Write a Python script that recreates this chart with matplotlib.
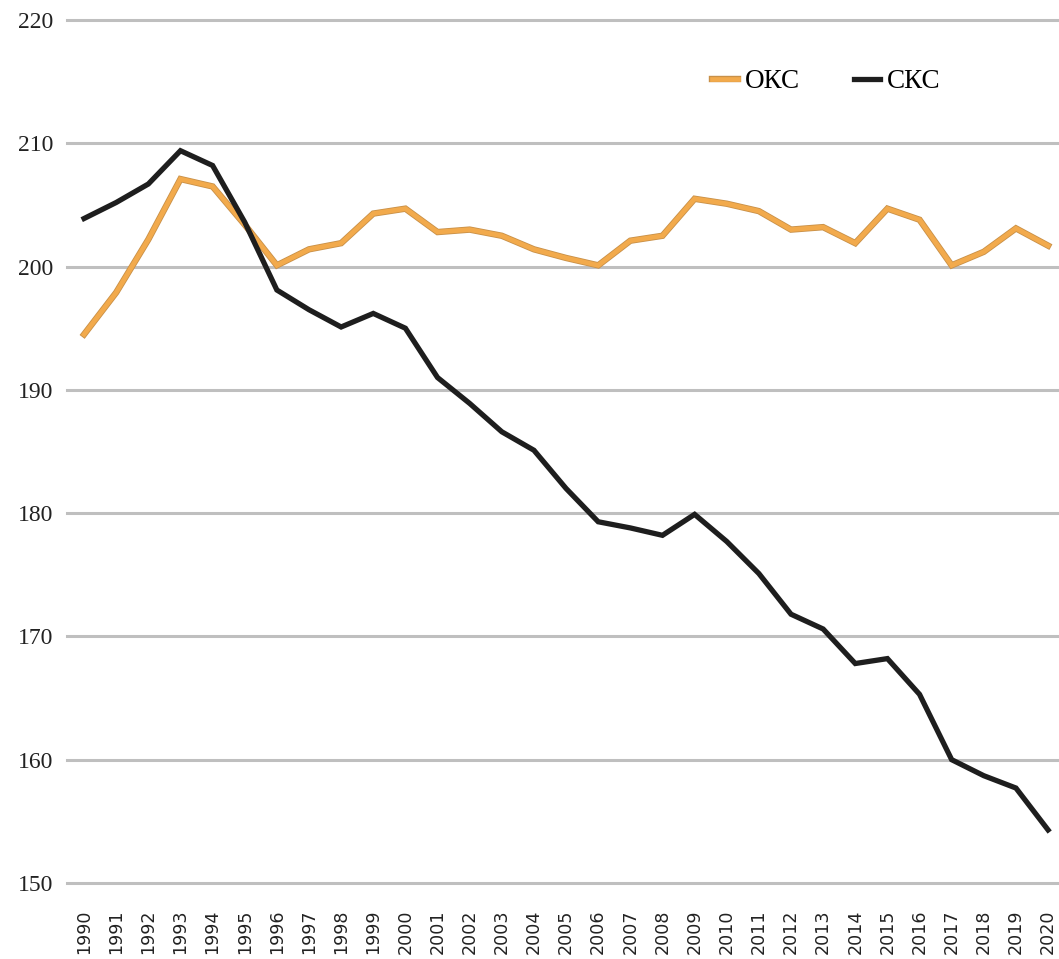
import matplotlib
matplotlib.use('Agg')
import matplotlib.pyplot as plt
import matplotlib.patheffects as pe

years = list(range(1990, 2021))

oks = [194.5, 197.9, 202.2, 207.1, 206.5, 203.4, 200.1, 201.4, 201.9, 204.3,
       204.7, 202.8, 203.0, 202.5, 201.4, 200.7, 200.1, 202.1, 202.5, 205.5,
       205.1, 204.5, 203.0, 203.2, 201.9, 204.7, 203.8, 200.1, 201.2, 203.1,
       201.7]

sks = [203.9, 205.2, 206.7, 209.4, 208.2, 203.6, 198.1, 196.5, 195.1, 196.2,
       195.0, 191.0, 188.9, 186.6, 185.1, 182.0, 179.3, 178.8, 178.2, 179.9,
       177.7, 175.1, 171.8, 170.6, 167.8, 168.2, 165.3, 160.0, 158.7, 157.7,
       154.3]

y_ticks = [150, 160, 170, 180, 190, 200, 210, 220]

plt.rcParams['font.family'] = ['Liberation Serif', 'DejaVu Serif']

fig = plt.figure(figsize=(10.59, 9.59), dpi=100)
ax = fig.add_axes([0.0633, 0.0793, 0.9367, 0.8998])

for y in y_ticks:
    ax.axhline(y, color='#BFBFBF', lw=2.2, zorder=1, clip_on=False)

ax.plot(years, oks, color='#F2AA4C', lw=3.4, zorder=3, solid_joinstyle='miter',
        label='ОКС',
        path_effects=[pe.Stroke(linewidth=4.6, foreground='#C89048'), pe.Normal()])
ax.plot(years, sks, color='#1E1E1E', lw=3.8, zorder=4, solid_joinstyle='miter',
        label='СКС')

ax.set_xlim(1989.47, 2020.34)
ax.set_ylim(150, 220)
ax.set_yticks(y_ticks)
ax.set_xticks(years)
ax.set_xticklabels([str(y) for y in years], rotation=90, fontsize=12.6,
                   color='#222222', family=['DejaVu Sans'])
ax.tick_params(axis='y', labelsize=17, labelcolor='#222222', length=0, pad=10)
ax.tick_params(axis='x', length=0, pad=19)
for s in ax.spines.values():
    s.set_visible(False)

leg = ax.legend(loc='center left', bbox_to_anchor=(0.66, 0.9145),
                bbox_transform=fig.transFigure, ncol=2, borderpad=0,
                frameon=False, fontsize=19.5, handlelength=0.95,
                handletextpad=0.25, columnspacing=2.0)

fig.savefig('out.png', dpi=100)
